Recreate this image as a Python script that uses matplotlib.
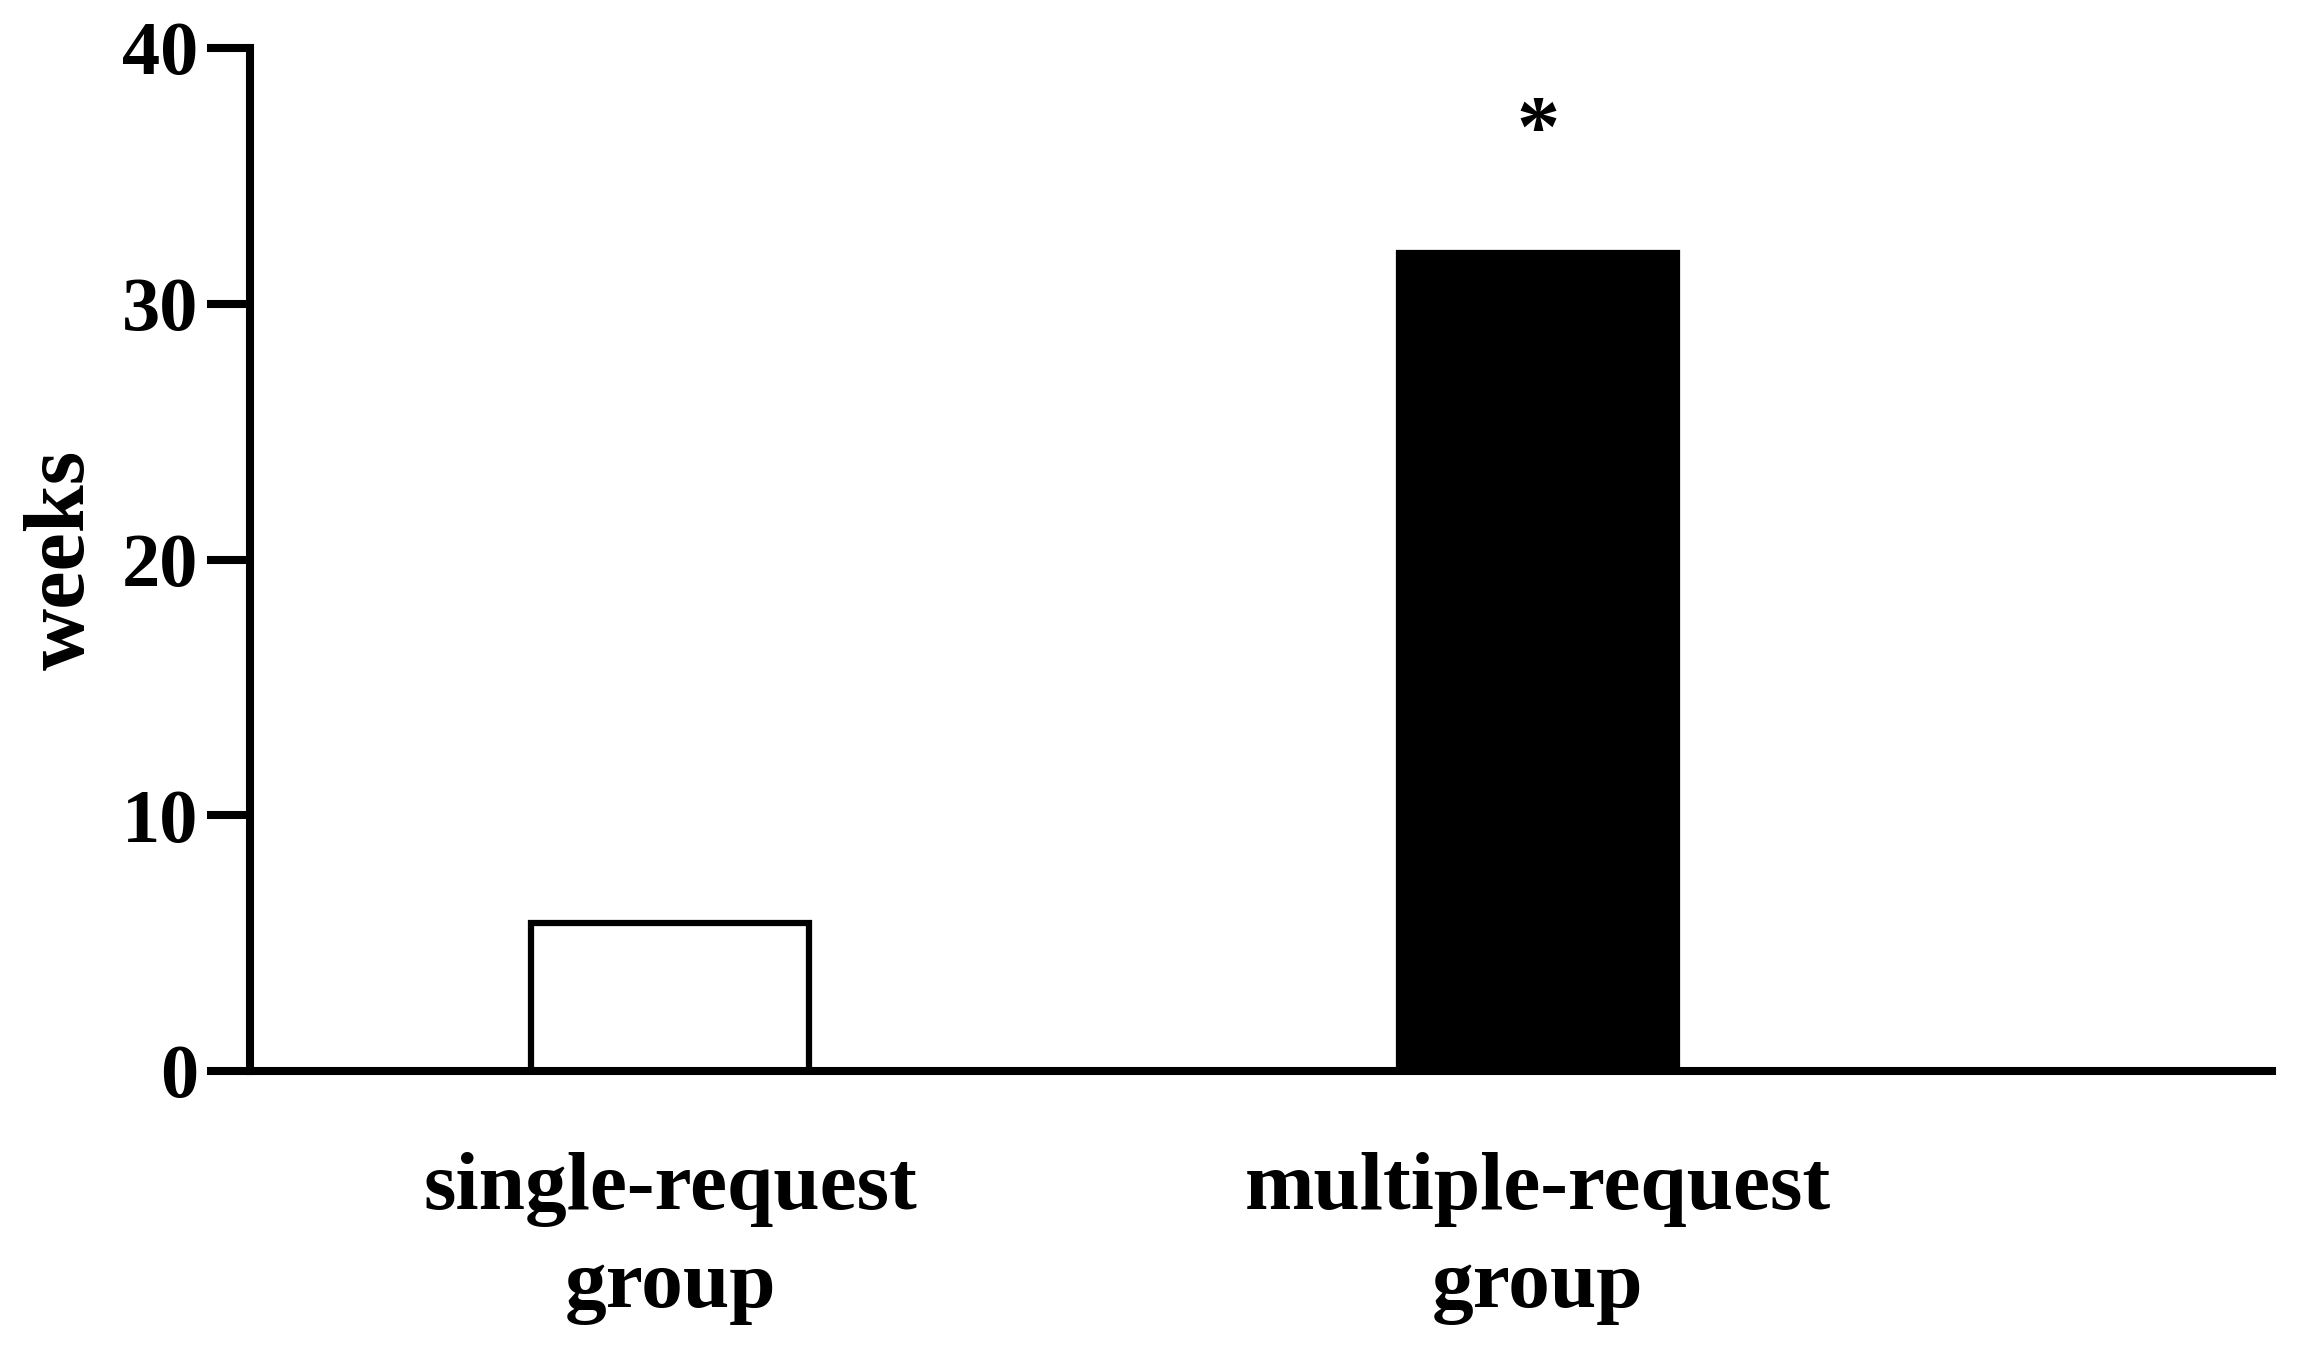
import matplotlib
matplotlib.use("Agg")
import matplotlib.pyplot as plt

# data
groups = ["single-request\ngroup", "multiple-request\ngroup"]
weeks = [5.8, 32]
fill_colors = ["white", "black"]
y_ticks = [0, 10, 20, 30, 40]
star_y = 36.6

plt.rcParams['font.family'] = ['Liberation Serif', 'DejaVu Serif']
plt.rcParams['font.weight'] = 'bold'

fig = plt.figure(figsize=(23.02, 13.56), dpi=100)
W, H = 2302, 1356
ax = fig.add_axes([250 / W, 1 - 1071 / H, (2272 - 250) / W, (1071 - 48) / H])

x = list(range(len(groups)))
ax.bar(x, weeks, width=0.32, color=fill_colors, edgecolor="black", linewidth=4.5, zorder=2)

# significance mark
ax.text(1, star_y, "*", ha="center", va="center", fontsize=62, fontweight="bold")

ax.set_xlim(-0.484, 1.846)
ax.set_ylim(0, 40)
ax.set_yticks(y_ticks)
ax.set_xticks(x)
ax.set_xticklabels(groups, fontsize=60, fontweight="bold", linespacing=1.42)
ax.tick_params(axis="x", length=0, pad=58)
ax.tick_params(axis="y", length=31, width=5.8, labelsize=55, pad=6)
for lbl in ax.get_yticklabels():
    lbl.set_fontweight("bold")

ax.set_ylabel("weeks", fontsize=62, fontweight="bold", labelpad=14)

for side in ["top", "right"]:
    ax.spines[side].set_visible(False)
for side in ["left", "bottom"]:
    ax.spines[side].set_linewidth(5.8)

fig.savefig("out.png", dpi=100)
